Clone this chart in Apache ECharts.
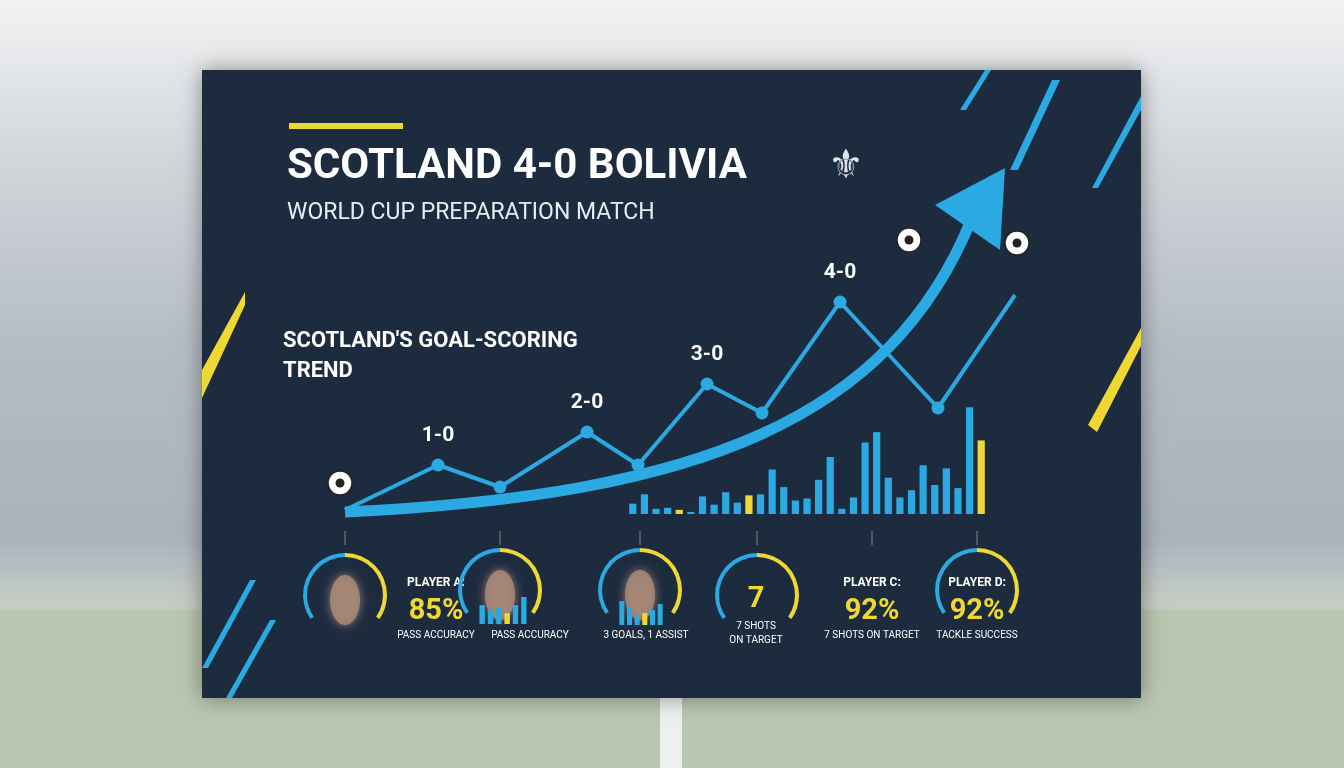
<!DOCTYPE html>
<html><head><meta charset="utf-8">
<script src="https://cdn.jsdelivr.net/npm/echarts@6/dist/echarts.min.js"></script>
<style>html,body{margin:0;padding:0;width:1344px;height:768px;overflow:hidden}#c{width:1344px;height:768px}</style>
</head><body><div id="c"></div>
<script>
// ---- data ----
const trendX = [345, 438, 500, 587, 638, 707, 762, 840, 938, 1015];
const trendY = [258, 303, 281, 336, 303, 384, 355, 466, 360, 473];
const trendLabels = ['', '1-0', '', '2-0', '', '3-0', '', '4-0', '', ''];
const barValues = [10,19,5,6,4,2,17,9,21,11,18,19,43,26,13,15,33,55,5,16,69,79,35,16,23,47,28,44,25,103,71];
const barHighlight = [4,10,30];
const miniBarsB = [7,5,6,4,7,10];
const miniBarsC = [8,6,3,4,5,7];
const miniHl = [3];
const players = [
  {c:[345,595], title:'PLAYER A:', big:'85%', sub:'PASS ACCURACY', tx:436},
  {c:[500,590], title:'', big:'', sub:'PASS ACCURACY', tx:530},
  {c:[640,590], title:'', big:'', sub:'3 GOALS, 1 ASSIST', tx:646},
  {c:[757,595], title:'', big:'7', sub:'7 SHOTS\nON TARGET', tx:756},
  {c:[872,595], title:'PLAYER C:', big:'92%', sub:'7 SHOTS ON TARGET', tx:872},
  {c:[977,590], title:'PLAYER D:', big:'92%', sub:'TACKLE SUCCESS', tx:977}
];
const BLUE='#2aa9e2', YEL='#f0d834', NAVY='#1d2b3f';
const chart = echarts.init(document.getElementById('c'));
const F = 'Roboto, "DejaVu Sans", sans-serif';

const graphics = [
  {type:'rect', shape:{x:0,y:0,width:1344,height:768}, style:{fill:new echarts.graphic.LinearGradient(0,0,0,1,[{offset:0,color:'#f1f2f3'},{offset:0.2,color:'#d3d7db'},{offset:0.45,color:'#b4bcc4'},{offset:0.7,color:'#a9b3bc'},{offset:0.78,color:'#c4ccc4'},{offset:1,color:'#b3c2a9'}])}, z:-10},
  {type:'rect', shape:{x:0,y:610,width:1344,height:158}, style:{fill:'#b9c6b0'}, z:-9},
  {type:'rect', shape:{x:660,y:690,width:22,height:78}, style:{fill:'#eef0ee'}, z:-8},
  {type:'rect', shape:{x:202,y:70,width:939,height:628}, style:{fill:NAVY, shadowBlur:20, shadowColor:'rgba(0,0,0,0.4)'}, z:-5},
  {type:'rect', shape:{x:289,y:123,width:114,height:6}, style:{fill:YEL}},
  {type:'polygon', shape:{points:[[202,370],[245,292],[245,305],[202,398]]}, style:{fill:YEL}},
  {type:'polygon', shape:{points:[[1088,425],[1141,328],[1141,346],[1097,432]]}, style:{fill:YEL}},
  {type:'polygon', shape:{points:[[960,110],[985,70],[991,70],[966,110]]}, style:{fill:BLUE}},
  {type:'polygon', shape:{points:[[1010,170],[1052,80],[1060,80],[1018,170]]}, style:{fill:BLUE}},
  {type:'polygon', shape:{points:[[1092,188],[1141,96],[1141,110],[1098,188]]}, style:{fill:BLUE}},
  {type:'polygon', shape:{points:[[202,668],[250,580],[256,580],[208,668]]}, style:{fill:BLUE}},
  {type:'polygon', shape:{points:[[226,698],[270,620],[276,620],[232,698]]}, style:{fill:BLUE}},
  {type:'text', left:287, top:146, style:{text:'SCOTLAND 4-0 BOLIVIA', fill:'#fff', font:'bold 42px '+F}},
  {type:'text', left:287, top:202, style:{text:'WORLD CUP PREPARATION MATCH', fill:'#e8edf2', font:'23px '+F}},
  {type:'text', left:283, top:326, style:{text:"SCOTLAND'S GOAL-SCORING\nTREND", fill:'#fff', font:'bold 22px '+F, lineHeight:30}},
  {type:'text', left:828, top:148, style:{text:'⚜', fill:'#e0e4ea', font:'40px "DejaVu Sans"'}},
  // arrow curve
  {type:'bezierCurve', shape:{x1:345,y1:512,cpx1:700,cpy1:495,cpx2:890,cpy2:420,x2:972,y2:218}, style:{stroke:BLUE,lineWidth:11,fill:null}},
  {type:'polygon', shape:{points:[[1005,168],[935,205],[1000,250]]}, style:{fill:BLUE}},
];
// balls
[[340,483],[909,240],[1017,243]].forEach(p=>{
  graphics.push({type:'circle', shape:{cx:p[0],cy:p[1],r:12}, style:{fill:'#fff',stroke:'#222',lineWidth:1.5}});
  graphics.push({type:'circle', shape:{cx:p[0],cy:p[1],r:4.5}, style:{fill:'#222'}});
});
// player blocks
const tickX=[345,500,640,757,872,977];
players.forEach((p,i)=>{
  graphics.push({type:'line', shape:{x1:tickX[i],y1:531,x2:tickX[i],y2:545}, style:{stroke:'#7b8796',lineWidth:1}});
  if(i<3){
    graphics.push({type:'ellipse', shape:{cx:p.c[0],cy:p.c[1]+5,rx:15,ry:25}, style:{fill:'#a88a78', shadowBlur:10, shadowColor:'#a88a78', opacity:0.85}});
  }
  if(p.title) graphics.push({type:'text', x:p.tx, y:577, style:{text:p.title, fill:'#fff', font:'bold 12px '+F, align:'center'}});
  if(p.big) graphics.push({type:'text', x:p.tx, y:p.big==='7'?585:597, style:{text:p.big, fill:YEL, font:'bold 29px '+F, align:'center'}});
  graphics.push({type:'text', x:p.tx, y:p.big==='7'?619:628, style:{text:p.sub, fill:'#fff', font:'10px '+F, align:'center', lineHeight:14}});
});

const gauges = players.filter((_,i)=>i!==4).map(p=>({
  type:'gauge', center:p.c, radius:42, startAngle:215, endAngle:-35, min:0, max:100,
  axisLine:{lineStyle:{width:4, color:[[0.5,BLUE],[1,YEL]]}},
  pointer:{show:false}, axisTick:{show:false}, splitLine:{show:false}, axisLabel:{show:false},
  detail:{show:false}, title:{show:false}, data:[{value:0}], silent:true
}));

function barData(vals, hl){return vals.map((v,i)=>({value:v, itemStyle:{color:hl.includes(i)?YEL:BLUE}}));}

chart.setOption({
  animation:false,
  graphic:graphics,
  grid:[
    {left:0,right:0,top:0,bottom:0},
    {left:627,top:400,width:360,height:114},
    {left:478,top:597,width:50,height:27},
    {left:618,top:601,width:46,height:24}
  ],
  xAxis:[
    {gridIndex:0,type:'value',min:0,max:1344,show:false},
    {gridIndex:1,type:'category',data:barValues.map((_,i)=>i),show:false},
    {gridIndex:2,type:'category',data:miniBarsB.map((_,i)=>i),show:false},
    {gridIndex:3,type:'category',data:miniBarsC.map((_,i)=>i),show:false}
  ],
  yAxis:[
    {gridIndex:0,type:'value',min:0,max:768,show:false},
    {gridIndex:1,type:'value',min:0,max:110,show:false},
    {gridIndex:2,type:'value',min:0,max:10,show:false},
    {gridIndex:3,type:'value',min:0,max:8,show:false}
  ],
  series:[
    {type:'line', xAxisIndex:0, yAxisIndex:0, data:trendX.map((x,i)=>({value:[x,trendY[i]], symbolSize:(i===0||i===trendX.length-1)?0:13, label:{show:!!trendLabels[i], formatter:trendLabels[i], position:'top', distance:12, color:'#fff', fontSize:21, fontFamily:F, fontWeight:'bold'}})),
      symbol:'circle', lineStyle:{color:BLUE,width:4}, itemStyle:{color:BLUE}, z:5},
    {type:'bar', xAxisIndex:1, yAxisIndex:1, data:barData(barValues,barHighlight), barWidth:'62%'},
    {type:'bar', xAxisIndex:2, yAxisIndex:2, data:barData(miniBarsB,[3]), barWidth:'65%'},
    {type:'bar', xAxisIndex:3, yAxisIndex:3, data:barData(miniBarsC,miniHl), barWidth:'65%'},
    ...gauges
  ]
});
</script></body></html>
